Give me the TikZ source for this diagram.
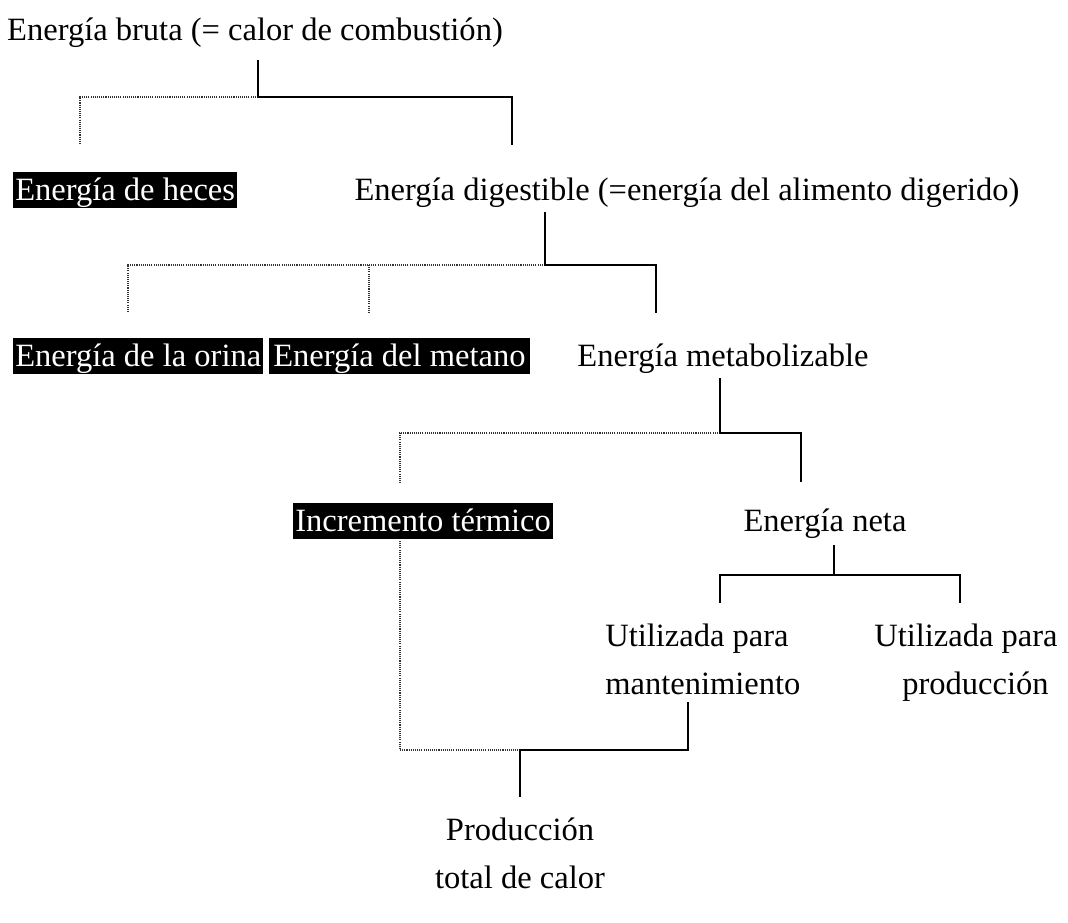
\documentclass[tikz,border=0pt]{standalone}
\usepackage{fontspec}
\setmainfont{Liberation Serif}
\begin{document}
\begin{tikzpicture}[x=0.75pt,y=-0.75pt,
  lbl/.style={font=\fontsize{24.4}{36}\selectfont, inner sep=0pt, anchor=base},
  inv/.style={lbl, fill=black, text=white, inner xsep=1.5pt, inner ysep=0pt, text height=21pt, text depth=6pt},
  sol/.style={draw=black, line width=1.4pt},
  dot/.style={draw=black!80, line width=0.9pt, dash pattern=on 0.8pt off 0.8pt}]
\useasboundingbox (0,0) rectangle (1068,922);
% labels
\node[lbl] (bruta) at (255,40) {Energía bruta (= calor de combustión)};
\node[inv, anchor=base west] (heces) at (13,200) {Energía de heces};
\node[lbl] (dig) at (687,200) {Energía digestible (=energía del alimento digerido)};
\node[inv, anchor=base west] (orina) at (13,366) {Energía de la orina};
\node[inv, anchor=base west, inner xsep=3pt] (metano) at (269,366) {Energía del metano};
\node[lbl] (metab) at (723,366) {Energía metabolizable};
\node[inv, anchor=base west] (incr) at (293,531) {Incremento térmico};
\node[lbl] (neta) at (825,531) {Energía neta};
\node[lbl, anchor=base west, align=left] (mant) at (605,694) {Utilizada para\\mantenimiento};
\node[lbl, anchor=base west, align=left] (prod) at (874,694) {Utilizada para\\\hspace*{21pt}producción};
\node[lbl, align=center] (total) at (520,888) {Producción\\total de calor};
% junction coordinates
\coordinate (a0) at (258,60);  \coordinate (a1) at (258,97);
\coordinate (a2) at (512,97);  \coordinate (a3) at (512,145);
\coordinate (a4) at (80,97);   \coordinate (a5) at (80,145);
\coordinate (b0) at (545,212); \coordinate (b1) at (545,265);
\coordinate (b2) at (656,265); \coordinate (b3) at (656,313);
\coordinate (b4) at (128,265); \coordinate (b5) at (128,313);
\coordinate (b6) at (369,265); \coordinate (b7) at (369,313);
\coordinate (c0) at (720,378); \coordinate (c1) at (720,433);
\coordinate (c2) at (801,433); \coordinate (c3) at (801,482);
\coordinate (c4) at (400,433); \coordinate (c5) at (400,483);
\coordinate (d0) at (834,545); \coordinate (d1) at (834,575);
\coordinate (d2) at (720,575); \coordinate (d3) at (720,603);
\coordinate (d4) at (960,575); \coordinate (d5) at (960,603);
\coordinate (e0) at (400,541); \coordinate (e1) at (400,750);
\coordinate (e2) at (520,750); \coordinate (e3) at (520,797);
\coordinate (e4) at (688,702); \coordinate (e5) at (688,750);
% connectors
\draw[dot] (a1) -- (a4) -- (a5);
\draw[sol] (a0) -- (a1) -- (a2) -- (a3);
\draw[dot] (b1) -- (b4) -- (b5);
\draw[dot] (b6) -- (b7);
\draw[sol] (b0) -- (b1) -- (b2) -- (b3);
\draw[dot] (c1) -- (c4) -- (c5);
\draw[sol] (c0) -- (c1) -- (c2) -- (c3);
\draw[sol] (d0) -- (d1);
\draw[sol] (d3) -- (d2) -- (d4) -- (d5);
\draw[dot] (e0) -- (e1) -- (e2);
\draw[sol] (e4) -- (e5) -- (e2) -- (e3);
\end{tikzpicture}
\end{document}
